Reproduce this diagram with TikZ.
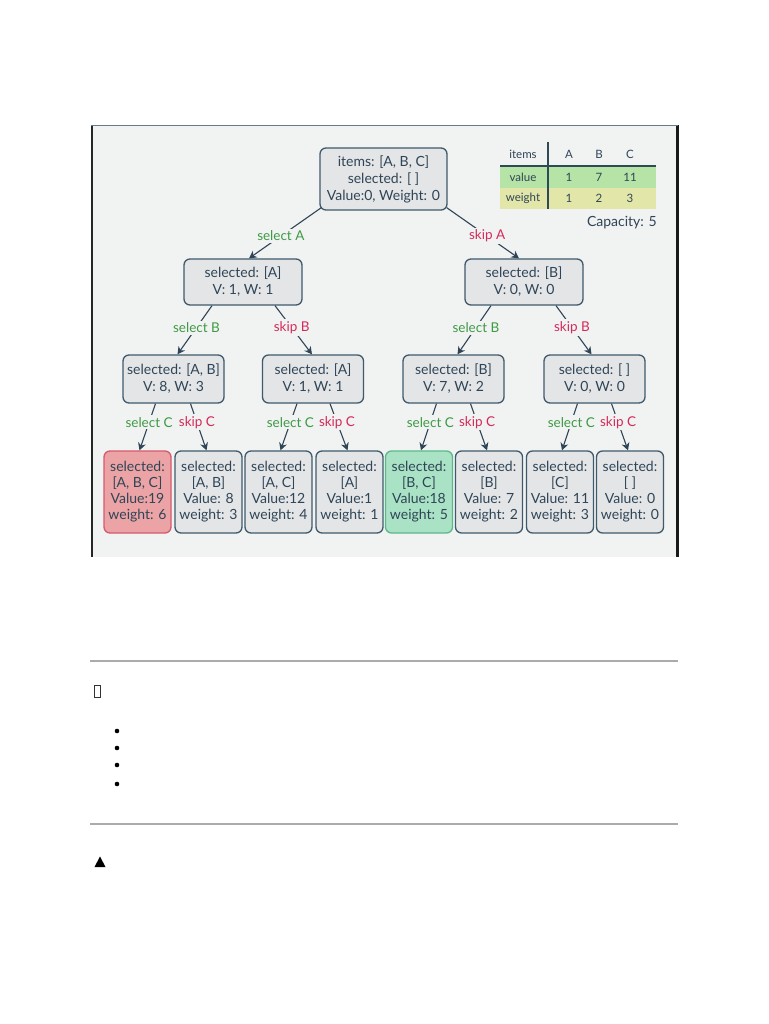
\documentclass[tikz,border=0pt]{standalone}
\usepackage{fontspec}
\setmainfont{Lato}
\usetikzlibrary{arrows.meta}
\definecolor{bgc}{HTML}{F1F2F2}
\definecolor{nodefill}{HTML}{E4E5E7}
\definecolor{nodeline}{HTML}{3F5A6B}
\definecolor{txt}{HTML}{2F4556}
\definecolor{grn}{HTML}{3E9A45}
\definecolor{crim}{HTML}{D42A5B}
\definecolor{redfill}{HTML}{EBA3A5}
\definecolor{redline}{HTML}{D45A6E}
\definecolor{grnfill}{HTML}{A9E2C4}
\definecolor{grnline}{HTML}{5BB88A}
\definecolor{tgreen}{HTML}{B6E3A6}
\definecolor{tyellow}{HTML}{E3E6A9}
\definecolor{tline}{HTML}{2D4A55}
\definecolor{rulec}{HTML}{ABABAB}
\tikzset{
  box/.style={draw=nodeline, fill=nodefill, line width=1.3pt, rounded corners=6pt,
    align=center, text=txt, inner sep=2pt, font=\fontsize{14}{17}\selectfont},
  leaf/.style={box, minimum width=67pt, minimum height=82pt, font=\fontsize{14}{16}\selectfont},
  redleaf/.style={leaf, draw=redline, fill=redfill},
  grnleaf/.style={leaf, draw=grnline, fill=grnfill},
  edge/.style={draw=txt, line width=1.1pt, -{Stealth[length=7.5pt,width=8pt]}},
  lbl/.style={fill=bgc, inner sep=2pt, font=\fontsize{13.5}{16}\selectfont},
  sel/.style={lbl, text=grn},
  skp/.style={lbl, text=crim},
  ttext/.style={text=txt, font=\fontsize{11.5}{13}\selectfont, inner sep=0pt},
}
\begin{document}
\begin{tikzpicture}[x=1pt,y=-1pt]
\useasboundingbox (0,0) rectangle (768,1024);
\fill[white] (0,0) rectangle (768,1024);
% diagram background and frame
\fill[bgc] (91,125) rectangle (678,557);
\draw[line width=2pt, color=black!85] (91.5,125) -- (91.5,557);
\draw[line width=2.5pt, color=black!90] (677.5,125) -- (677.5,557);
\draw[line width=1.8pt, color=nodeline!80] (91,125.5) -- (678,125.5);

% table
\fill[tgreen] (500,166) rectangle (656,188);
\fill[tyellow] (500,188) rectangle (656,209);
\draw[tline, line width=2.3pt] (500,166) -- (656,166);
\draw[tline, line width=2.3pt] (548,142) -- (548,209);
\node[ttext] (th0) at (523,154) {items};
\node[ttext] (th1) at (569,154) {A};
\node[ttext] (th2) at (599,154) {B};
\node[ttext] (th3) at (630,154) {C};
\node[ttext] (tv0) at (523,177) {value};
\node[ttext] (tv1) at (569,177) {1};
\node[ttext] (tv2) at (599,177) {7};
\node[ttext] (tv3) at (630,177) {11};
\node[ttext] (tw0) at (523,198) {weight};
\node[ttext] (tw1) at (569,198) {1};
\node[ttext] (tw2) at (599,198) {2};
\node[ttext] (tw3) at (630,198) {3};
\node[text=txt, font=\fontsize{14}{16}\selectfont, anchor=east, inner sep=0pt] (cap) at (657,223) {Capacity: 5};

% nodes
\node[box, minimum width=127pt, minimum height=62pt] (root) at (383.5,179) {items: [A, B, C]\\selected: [ ]\\Value:0, Weight: 0};
\node[box, minimum width=118pt, minimum height=46pt] (nA) at (243,282) {selected: [A]\\V: 1, W: 1};
\node[box, minimum width=118pt, minimum height=46pt] (nB) at (524,282) {selected: [B]\\V: 0, W: 0};
\node[box, minimum width=101pt, minimum height=48pt] (nAB) at (173.5,379) {selected: [A, B]\\V: 8, W: 3};
\node[box, minimum width=101pt, minimum height=48pt] (nAx) at (313,379) {selected: [A]\\V: 1, W: 1};
\node[box, minimum width=101pt, minimum height=48pt] (nBx) at (453.5,379) {selected: [B]\\V: 7, W: 2};
\node[box, minimum width=101pt, minimum height=48pt] (nE) at (594.5,379) {selected: [ ]\\V: 0, W: 0};
\node[redleaf] (l1) at (137.5,492) {selected:\\{[A, B, C]}\\Value:19\\weight: 6};
\node[leaf] (l2) at (208.5,492) {selected:\\{[A, B]}\\Value: 8\\weight: 3};
\node[leaf] (l3) at (278.5,492) {selected:\\{[A, C]}\\Value:12\\weight: 4};
\node[leaf] (l4) at (349.5,492) {selected:\\{[A]}\\Value:1\\weight: 1};
\node[grnleaf] (l5) at (419,492) {selected:\\{[B, C]}\\Value:18\\weight: 5};
\node[leaf] (l6) at (489,492) {selected:\\{[B]}\\Value: 7\\weight: 2};
\node[leaf] (l7) at (560,492) {selected:\\{[C]}\\Value: 11\\weight: 3};
\node[leaf] (l8) at (630,492) {selected:\\{[ ]}\\Value: 0\\weight: 0};

% edges
\draw[edge] ([shift={(2pt,3pt)}]root.south west) -- node[sel, pos=0.56] {select A} ([xshift=6pt]nA.north);
\draw[edge] ([shift={(-1pt,3pt)}]root.south east) -- node[skp, pos=0.56] {skip A} ([xshift=-5pt]nB.north);

\draw[edge] ([xshift=-31pt]nA.south) -- node[sel, pos=0.45] {select B} ([xshift=4pt]nAB.north);
\draw[edge] ([xshift=32pt]nA.south) -- node[skp, pos=0.45] {skip B} ([xshift=-1pt]nAx.north);
\draw[edge] ([xshift=-33pt]nB.south) -- node[sel, pos=0.45] {select B} ([xshift=4pt]nBx.north);
\draw[edge] ([xshift=32pt]nB.south) -- node[skp, pos=0.45] {skip B} ([xshift=-3pt]nE.north);

\draw[edge] ([xshift=-18pt]nAB.south) -- node[sel, pos=0.4] {select C} ([xshift=2pt]l1.north);
\draw[edge] ([xshift=17pt]nAB.south) -- node[skp, pos=0.4] {skip C} ([xshift=-2pt]l2.north);
\draw[edge] ([xshift=-16pt]nAx.south) -- node[sel, pos=0.4] {select C} ([xshift=2pt]l3.north);
\draw[edge] ([xshift=17pt]nAx.south) -- node[skp, pos=0.4] {skip C} ([xshift=-2pt]l4.north);
\draw[edge] ([xshift=-17pt]nBx.south) -- node[sel, pos=0.4] {select C} ([xshift=2pt]l5.north);
\draw[edge] ([xshift=17pt]nBx.south) -- node[skp, pos=0.4] {skip C} ([xshift=-2pt]l6.north);
\draw[edge] ([xshift=-17pt]nE.south) -- node[sel, pos=0.4] {select C} ([xshift=2pt]l7.north);
\draw[edge] ([xshift=17pt]nE.south) -- node[skp, pos=0.4] {skip C} ([xshift=-2pt]l8.north);

% page content below
\draw[rulec, line width=2pt] (90,661) -- (678,661);
\draw[rulec, line width=2pt] (90,824) -- (678,824);
\draw[black!80, line width=0.7pt] (94.5,685.5) rectangle (100.5,697);
\foreach \yy in {731,748,765,784} \fill[black] (117,\yy) circle (2.3);
\fill[black] (94.5,867) -- (105.5,867) -- (100,856.5) -- cycle;
\end{tikzpicture}
\end{document}
